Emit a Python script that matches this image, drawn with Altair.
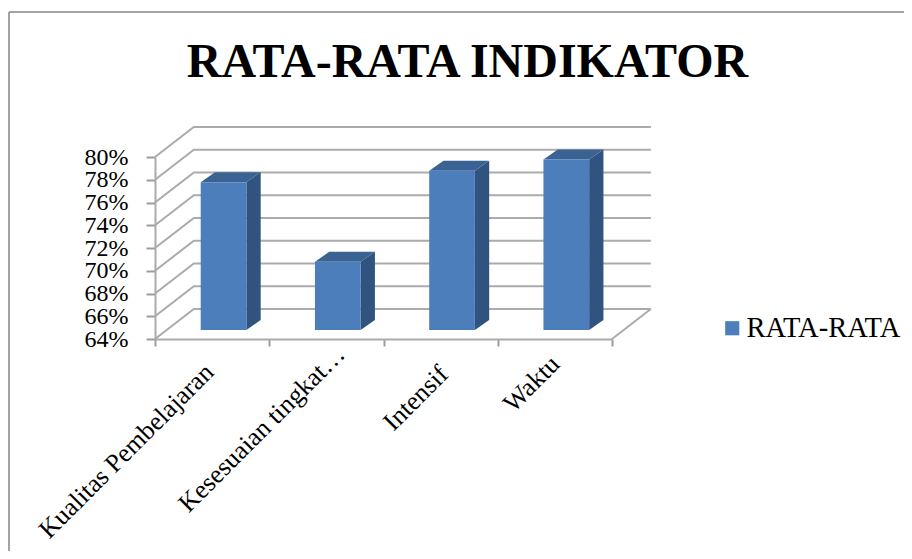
import altair as alt
import pandas as pd

categories = ["Kualitas Pembelajaran", "Kesesuaian tingkat…", "Intensif", "Waktu"]
values = [77, 70, 78, 79]
ticks = [64, 66, 68, 70, 72, 74, 76, 78, 80]
series_name = "RATA-RATA"

SERIF = "Liberation Serif"
GRAY = "#ababab"
FRONT, SIDE, TOP = "#4c7ebb", "#30537f", "#3a6393"

# 3D projection expressed in data units
WALL_X, WALL_Y = 0.34, 2.64      # depth of the whole box
BAR_X, BAR_Y = 0.10, 0.79        # how far the bar's front sits from the box front
SIDE_X, SIDE_Y = 0.125, 0.88     # depth of the bar itself
BAR_W = 0.40
BASE = ticks[0]

# fine placement of each rotated category label (along / across the text)
label_dx = [-22.5, 2.3, -19.7, -14.7]
label_dy = [18.8, 18.1, 24.5, 15.3]

xs = alt.Scale(domain=[0, 4], nice=False, zero=False)
ys = alt.Scale(domain=[64, 80], nice=False, zero=False)
x_axis = alt.Axis(
    values=[0, 1, 2, 3, 4], labels=False, grid=False, tickSize=7, tickWidth=2,
    tickColor="#9c9c9c", domainColor=GRAY, domainWidth=2, title=None)
y_axis = alt.Axis(
    values=ticks, grid=False, tickSize=9, tickWidth=2, tickColor="#9c9c9c",
    domainColor=GRAY, domainWidth=2, labelExpr="datum.value + '%'",
    labelFont=SERIF, labelFontSize=24, labelColor="black", labelPadding=18,
    labelBaseline="middle", labelOverlap=False, title=None)

front, side, top, grid = [], [], [], []
for i, (c, v) in enumerate(zip(categories, values)):
    x0 = i + 0.5 - BAR_W / 2 + BAR_X
    x1 = x0 + BAR_W
    y0 = BASE + BAR_Y
    yt = v + BAR_Y
    front.append(dict(series=series_name, x0=x0, x1=x1, y0=y0, yt=yt))
    side += [
        dict(bar=c, x=x1, lo=y0, hi=yt),
        dict(bar=c, x=x1 + SIDE_X, lo=y0 + SIDE_Y, hi=yt + SIDE_Y),
    ]
    top += [
        dict(bar=c, x=x0, lo=yt, hi=yt),
        dict(bar=c, x=x0 + SIDE_X, lo=yt, hi=yt + SIDE_Y),
        dict(bar=c, x=x1, lo=yt, hi=yt + SIDE_Y),
        dict(bar=c, x=x1 + SIDE_X, lo=yt + SIDE_Y, hi=yt + SIDE_Y),
    ]

for t in ticks:
    grid += [
        dict(t=t, o=0, x=0, y=t),
        dict(t=t, o=1, x=WALL_X, y=t + WALL_Y),
        dict(t=t, o=2, x=4 + WALL_X, y=t + WALL_Y),
    ]
edge = [dict(x=4, y=BASE), dict(x=4 + WALL_X, y=BASE + WALL_Y)]

one = pd.DataFrame({"a": [0]})
border_v = alt.Chart(one).mark_rule(color="#a3a3a3", strokeWidth=2).encode(
    x=alt.value(-146), y=alt.value(-145), y2=alt.value(402))
border_h = alt.Chart(one).mark_rule(color="#a3a3a3", strokeWidth=2).encode(
    y=alt.value(-145), x=alt.value(-146), x2=alt.value(760))

axes = alt.Chart(pd.DataFrame(grid)).mark_line(color=GRAY, strokeWidth=2).encode(
    x=alt.X("x:Q", scale=xs, axis=x_axis),
    y=alt.Y("y:Q", scale=ys, axis=y_axis),
    detail="t:N",
    order="o:Q",
)
edge_line = alt.Chart(pd.DataFrame(edge)).mark_line(color=GRAY, strokeWidth=2).encode(
    x=alt.X("x:Q", scale=xs, axis=x_axis), y=alt.Y("y:Q", scale=ys, axis=y_axis))

side_mark = alt.Chart(pd.DataFrame(side)).mark_area(color=SIDE, orient="vertical").encode(
    x=alt.X("x:Q", scale=xs, axis=x_axis),
    y=alt.Y("lo:Q", scale=ys, axis=y_axis, stack=None),
    y2="hi:Q",
    detail="bar:N",
)
top_mark = alt.Chart(pd.DataFrame(top)).mark_area(color=TOP, orient="vertical").encode(
    x=alt.X("x:Q", scale=xs, axis=x_axis),
    y=alt.Y("lo:Q", scale=ys, axis=y_axis, stack=None),
    y2="hi:Q",
    detail="bar:N",
)
front_mark = alt.Chart(pd.DataFrame(front)).mark_rect().encode(
    x=alt.X("x0:Q", scale=xs, axis=x_axis),
    x2="x1:Q",
    y=alt.Y("y0:Q", scale=ys, axis=y_axis),
    y2="yt:Q",
    color=alt.Color("series:N", scale=alt.Scale(range=[FRONT]), legend=alt.Legend(
        title=None, orient="none", legendX=563, legendY=157, symbolType="square",
        symbolSize=200, symbolStrokeWidth=0, labelFont=SERIF, labelFontSize=28.5,
        labelColor="black", labelOffset=0, padding=0)),
)
label_marks = [
    alt.Chart(pd.DataFrame([dict(c=c, x=i + 0.5, y=BASE)])).mark_text(
        font=SERIF, fontSize=26, color="black", angle=315, align="right",
        baseline="middle", dx=label_dx[i], dy=label_dy[i],
    ).encode(
        x=alt.X("x:Q", scale=xs, axis=x_axis),
        y=alt.Y("y:Q", scale=ys, axis=y_axis),
        text="c:N",
    )
    for i, c in enumerate(categories)
]

chart = alt.layer(axes, edge_line, side_mark, top_mark, front_mark, *label_marks, border_v, border_h).properties(
    width=457, height=182,
    title=alt.TitleParams(
        "RATA-RATA INDIKATOR", font=SERIF, fontSize=48, fontWeight="bold", color="black",
        anchor="middle", dx=84, offset=-124, baseline="bottom"),
    padding={"left": 147, "top": 149, "right": 292, "bottom": 212},
    autosize=alt.AutoSizeParams(type="none"),
    background="white",
).configure_view(stroke=None)

chart.save("out.html", embed_options={"renderer": "svg", "actions": False})
